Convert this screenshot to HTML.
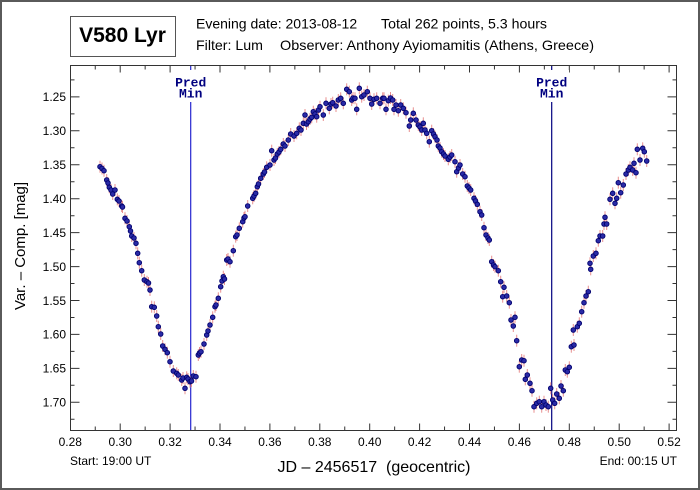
<!DOCTYPE html>
<html>
<head>
<meta charset="utf-8">
<style>
html,body{margin:0;padding:0;background:#fff;}
body{width:700px;height:490px;overflow:hidden;}
svg{display:block;}
text{font-family:"Liberation Sans",Arial,sans-serif;}
</style>
</head>
<body>
<svg width="700" height="490" viewBox="0 0 700 490" xmlns="http://www.w3.org/2000/svg">
<defs>
<marker id="eb" markerUnits="userSpaceOnUse" markerWidth="4" markerHeight="16" refX="2" refY="8" viewBox="0 0 4 16" overflow="visible"><line x1="2" y1="2" x2="2" y2="14" stroke="#e89090" stroke-width="1"/></marker>
<marker id="dt" markerUnits="userSpaceOnUse" markerWidth="6" markerHeight="6" refX="3" refY="3" viewBox="0 0 6 6" overflow="visible"><circle cx="3" cy="3" r="2.3" fill="#2a2aa6" stroke="#00006e" stroke-width="0.9"/></marker>
</defs>
<rect x="0" y="0" width="700" height="490" fill="#fff"/>
<rect x="1" y="1" width="698" height="488" fill="none" stroke="#5a5a5a" stroke-width="2"/>

<!-- title box -->
<rect x="70.5" y="16.5" width="105" height="40" fill="#fff" stroke="#555" stroke-width="1"/>
<text x="122.5" y="42" font-size="21" font-weight="bold" text-anchor="middle" fill="#000">V580 Lyr</text>

<!-- header -->
<text x="196" y="28.5" font-size="14" fill="#000">Evening date: 2013-08-12</text>
<text x="381" y="28.5" font-size="14" fill="#000" textLength="166" lengthAdjust="spacingAndGlyphs">Total 262 points, 5.3 hours</text>
<text x="196" y="50" font-size="14" fill="#000" textLength="67" lengthAdjust="spacingAndGlyphs">Filter: Lum</text>
<text x="280" y="50" font-size="14" fill="#000" textLength="314" lengthAdjust="spacingAndGlyphs">Observer: Anthony Ayiomamitis (Athens, Greece)</text>

<!-- plot frame -->
<rect x="70.5" y="65.5" width="606" height="365" fill="#fff" stroke="#333" stroke-width="1"/>

<!-- x ticks -->
<path stroke="#333" stroke-width="1" fill="none" d="
M120.2 430.5v-7M170.1 430.5v-7M220 430.5v-7M269.9 430.5v-7M319.8 430.5v-7M369.7 430.5v-7M419.6 430.5v-7M469.5 430.5v-7M519.4 430.5v-7M569.3 430.5v-7M619.2 430.5v-7M669.1 430.5v-7
M95.25 430.5v-4M145.15 430.5v-4M195.05 430.5v-4M244.95 430.5v-4M294.85 430.5v-4M344.75 430.5v-4M394.65 430.5v-4M444.55 430.5v-4M494.45 430.5v-4M544.35 430.5v-4M594.25 430.5v-4M644.15 430.5v-4
M120.2 65.5v7M170.1 65.5v7M220 65.5v7M269.9 65.5v7M319.8 65.5v7M369.7 65.5v7M419.6 65.5v7M469.5 65.5v7M519.4 65.5v7M569.3 65.5v7M619.2 65.5v7M669.1 65.5v7
M95.25 65.5v4M145.15 65.5v4M195.05 65.5v4M244.95 65.5v4M294.85 65.5v4M344.75 65.5v4M394.65 65.5v4M444.55 65.5v4M494.45 65.5v4M544.35 65.5v4M594.25 65.5v4M644.15 65.5v4
"/>
<!-- y ticks -->
<path stroke="#333" stroke-width="1" fill="none" d="
M70.5 96.9h9M70.5 130.8h9M70.5 164.8h9M70.5 198.7h9M70.5 232.6h9M70.5 266.6h9M70.5 300.5h9M70.5 334.4h9M70.5 368.4h9M70.5 402.3h9
M70.5 79.9h4M70.5 113.9h4M70.5 147.8h4M70.5 181.7h4M70.5 215.7h4M70.5 249.6h4M70.5 283.5h4M70.5 317.5h4M70.5 351.4h4M70.5 385.3h4M70.5 419.3h4
M676.5 96.9h-9M676.5 130.8h-9M676.5 164.8h-9M676.5 198.7h-9M676.5 232.6h-9M676.5 266.6h-9M676.5 300.5h-9M676.5 334.4h-9M676.5 368.4h-9M676.5 402.3h-9
M676.5 79.9h-4M676.5 113.9h-4M676.5 147.8h-4M676.5 181.7h-4M676.5 215.7h-4M676.5 249.6h-4M676.5 283.5h-4M676.5 317.5h-4M676.5 351.4h-4M676.5 385.3h-4M676.5 419.3h-4
"/>

<!-- x tick labels -->
<g font-size="12" text-anchor="middle" fill="#000">
<text x="70.3" y="446">0.28</text><text x="120.2" y="446">0.30</text><text x="170.1" y="446">0.32</text><text x="220" y="446">0.34</text><text x="269.9" y="446">0.36</text><text x="319.8" y="446">0.38</text><text x="369.7" y="446">0.40</text><text x="419.6" y="446">0.42</text><text x="469.5" y="446">0.44</text><text x="519.4" y="446">0.46</text><text x="569.3" y="446">0.48</text><text x="619.2" y="446">0.50</text><text x="669.1" y="446">0.52</text>
</g>
<!-- y tick labels -->
<g font-size="12" text-anchor="end" fill="#000">
<text x="66" y="101.2">1.25</text><text x="66" y="135.1">1.30</text><text x="66" y="169.1">1.35</text><text x="66" y="203">1.40</text><text x="66" y="236.9">1.45</text><text x="66" y="270.9">1.50</text><text x="66" y="304.8">1.55</text><text x="66" y="338.7">1.60</text><text x="66" y="372.7">1.65</text><text x="66" y="406.6">1.70</text>
</g>

<!-- predicted minima -->
<line x1="190.7" y1="66" x2="190.7" y2="430" stroke="#2626d0" stroke-width="1.2"/>
<line x1="551.7" y1="66" x2="551.7" y2="430" stroke="#000080" stroke-width="1.2"/>
<rect x="174" y="70" width="34" height="32" fill="#fff"/>
<rect x="535" y="70" width="34" height="32" fill="#fff"/>
<g font-size="13" font-weight="bold" fill="#000080" text-anchor="middle">
<text x="190.7" y="86.7" style="font-family:'Liberation Mono',monospace">Pred</text>
<text x="190.7" y="97.5" style="font-family:'Liberation Mono',monospace">Min</text>
<text x="551.7" y="86.7" style="font-family:'Liberation Mono',monospace">Pred</text>
<text x="551.7" y="97.5" style="font-family:'Liberation Mono',monospace">Min</text>
</g>

<!-- error bars -->
<path fill="none" stroke="none" marker-start="url(#eb)" marker-mid="url(#eb)" marker-end="url(#eb)" d="M100 166.7L102 168.5L104 170.7L106.7 180L108 183L109.3 187.3L111 190L112.7 194L115 190L117.3 199.3L119 201L121.7 206L122.5 207L125 218.3L127 221L129.3 226.7L130.5 231L131.7 236L134 238L136 243.3L137.7 253.3L139.3 262.7L141.7 270.7L144.3 280L147 281.7L148.5 283L150 290L151.7 306.7L154.3 307.3L156.7 316L158.3 326.7L160.7 334L162.7 346L165 349.3L167.3 352.7L170 361.7L173.3 371L176.7 373.3L178.3 375L181.7 380L183 378L185 388.3L186.7 377.3L188 379L190 381.7L191.5 381L193.3 376L196 376.7L198.3 355L199.5 353L201 351.7L204 344L206.7 335L208 331L210 325L212.7 317.3L215 306.7L216 305L218.3 298.3L220.7 286.7L222 281L223.3 276.7L224.5 279L226.7 260L228 259L230 261.7L233.3 250.7L235.7 236.7L237 235L239.3 228.3L242.7 221.7L244 218L245 216.7L247.7 206L252.7 198.3L254 196L255.7 193.3L257.3 186.7L258.5 184L260.7 178.3L263.3 174L264.5 172L266.7 167.3L270 165L271.7 150.7L274 160L275.5 158L277.3 154L279 152L280.7 149.3L283.3 144L285 146L288.3 140L290.7 134L294 136L296.7 133.3L299.3 128.3L301 130L303.3 123.3L305 115L306.5 124L308.3 121.7L310 119L311.7 117.3L313.3 111.7L315 114L316.7 116.7L318.5 110L320 106.7L323.3 115L326 103.3L329.3 108.3L331 104L332.7 102.7L336 106L338.3 100L340.7 98.3L343.3 103.3L346.7 89.3L349.3 91.7L351.7 100L353 98L355 98.3L356.7 109.3L359.3 88.3L361.7 96.7L364 95L367.3 91.7L370 98.3L371.7 104L374 99.3L376.7 98.3L380 103.3L382.7 98.3L384 98.3L386 109.3L388.3 100.7L390.5 98L392.7 100L394 109.3L396 105L398.3 110.7L400.7 105L403.3 108.3L406 112.7L409.3 126L410.7 120L413.3 113.3L416 120L418.3 125L420 127L421.7 130L423.3 123.3L425 130L426.7 133.3L429.3 141.7L431.7 130.7L433.5 134L435 136.7L437 140L438.3 146L440 148L441.7 151.7L443.5 154L445 156L448.3 159.3L450 157L451.7 155L455 161.7L456.7 171.7L458.5 168L460 165L462.7 174L465 176.7L467.3 186L469 188L470.7 190L474 198.3L475.5 201L477.3 204.3L480 211.7L481.7 215L484 227.7L486 235L488 238L489.3 240L491.7 261.7L493.5 265L495 266.7L498.3 270.7L500.7 281.7L502.7 296.7L504 287.3L506.7 296L509.3 302.7L511 320L513.3 326L515 317.3L516.7 340.7L519.3 366.7L521.7 360L524 360.7L525.3 379.3L527.3 375L530 383.3L532 390.7L534 406.7L536.7 403.3L539.3 401.7L541.7 406.7L544 401.7L546 405L548.3 406.7L550.7 388.3L552.7 400L554.7 403.3L556.7 394L559.3 398.3L561 386L563.3 390.7L565.3 370L567.3 371.7L569.3 367.3L571.3 346.7L573.3 330L574 345L577.3 326.7L579.3 323.3L581.7 311.7L584 302.7L586 296L588.3 291.7L590 263.3L590.7 269.3L593.3 256L596 253.3L598.3 240.7L600 236L602.7 236L604 224L605 217.3L606.7 224L610 199.3L612.7 193.3L615 203.3L616.7 198.3L618.3 182.7L620.7 192.7L623.3 185L626 174L628.3 170L630 167.3L632.7 170L634 163.3L636 172.7L637.3 149.3L640 160L642.7 148.3L644.3 151.7L646.7 161"/>

<!-- data points -->
<path fill="none" stroke="none" marker-start="url(#dt)" marker-mid="url(#dt)" marker-end="url(#dt)" d="M100 166.7L102 168.5L104 170.7L106.7 180L108 183L109.3 187.3L111 190L112.7 194L115 190L117.3 199.3L119 201L121.7 206L122.5 207L125 218.3L127 221L129.3 226.7L130.5 231L131.7 236L134 238L136 243.3L137.7 253.3L139.3 262.7L141.7 270.7L144.3 280L147 281.7L148.5 283L150 290L151.7 306.7L154.3 307.3L156.7 316L158.3 326.7L160.7 334L162.7 346L165 349.3L167.3 352.7L170 361.7L173.3 371L176.7 373.3L178.3 375L181.7 380L183 378L185 388.3L186.7 377.3L188 379L190 381.7L191.5 381L193.3 376L196 376.7L198.3 355L199.5 353L201 351.7L204 344L206.7 335L208 331L210 325L212.7 317.3L215 306.7L216 305L218.3 298.3L220.7 286.7L222 281L223.3 276.7L224.5 279L226.7 260L228 259L230 261.7L233.3 250.7L235.7 236.7L237 235L239.3 228.3L242.7 221.7L244 218L245 216.7L247.7 206L252.7 198.3L254 196L255.7 193.3L257.3 186.7L258.5 184L260.7 178.3L263.3 174L264.5 172L266.7 167.3L270 165L271.7 150.7L274 160L275.5 158L277.3 154L279 152L280.7 149.3L283.3 144L285 146L288.3 140L290.7 134L294 136L296.7 133.3L299.3 128.3L301 130L303.3 123.3L305 115L306.5 124L308.3 121.7L310 119L311.7 117.3L313.3 111.7L315 114L316.7 116.7L318.5 110L320 106.7L323.3 115L326 103.3L329.3 108.3L331 104L332.7 102.7L336 106L338.3 100L340.7 98.3L343.3 103.3L346.7 89.3L349.3 91.7L351.7 100L353 98L355 98.3L356.7 109.3L359.3 88.3L361.7 96.7L364 95L367.3 91.7L370 98.3L371.7 104L374 99.3L376.7 98.3L380 103.3L382.7 98.3L384 98.3L386 109.3L388.3 100.7L390.5 98L392.7 100L394 109.3L396 105L398.3 110.7L400.7 105L403.3 108.3L406 112.7L409.3 126L410.7 120L413.3 113.3L416 120L418.3 125L420 127L421.7 130L423.3 123.3L425 130L426.7 133.3L429.3 141.7L431.7 130.7L433.5 134L435 136.7L437 140L438.3 146L440 148L441.7 151.7L443.5 154L445 156L448.3 159.3L450 157L451.7 155L455 161.7L456.7 171.7L458.5 168L460 165L462.7 174L465 176.7L467.3 186L469 188L470.7 190L474 198.3L475.5 201L477.3 204.3L480 211.7L481.7 215L484 227.7L486 235L488 238L489.3 240L491.7 261.7L493.5 265L495 266.7L498.3 270.7L500.7 281.7L502.7 296.7L504 287.3L506.7 296L509.3 302.7L511 320L513.3 326L515 317.3L516.7 340.7L519.3 366.7L521.7 360L524 360.7L525.3 379.3L527.3 375L530 383.3L532 390.7L534 406.7L536.7 403.3L539.3 401.7L541.7 406.7L544 401.7L546 405L548.3 406.7L550.7 388.3L552.7 400L554.7 403.3L556.7 394L559.3 398.3L561 386L563.3 390.7L565.3 370L567.3 371.7L569.3 367.3L571.3 346.7L573.3 330L574 345L577.3 326.7L579.3 323.3L581.7 311.7L584 302.7L586 296L588.3 291.7L590 263.3L590.7 269.3L593.3 256L596 253.3L598.3 240.7L600 236L602.7 236L604 224L605 217.3L606.7 224L610 199.3L612.7 193.3L615 203.3L616.7 198.3L618.3 182.7L620.7 192.7L623.3 185L626 174L628.3 170L630 167.3L632.7 170L634 163.3L636 172.7L637.3 149.3L640 160L642.7 148.3L644.3 151.7L646.7 161"/>

<!-- axis titles -->
<text x="374" y="472" font-size="16" text-anchor="middle" fill="#000">JD – 2456517 &#160;(geocentric)</text>
<text x="70" y="465" font-size="12" fill="#000">Start: 19:00 UT</text>
<text x="677" y="465" font-size="12" text-anchor="end" fill="#000">End: 00:15 UT</text>
<text transform="translate(25,246) rotate(-90)" font-size="15" text-anchor="middle" fill="#000">Var. – Comp. [mag]</text>
</svg>
</body>
</html>
